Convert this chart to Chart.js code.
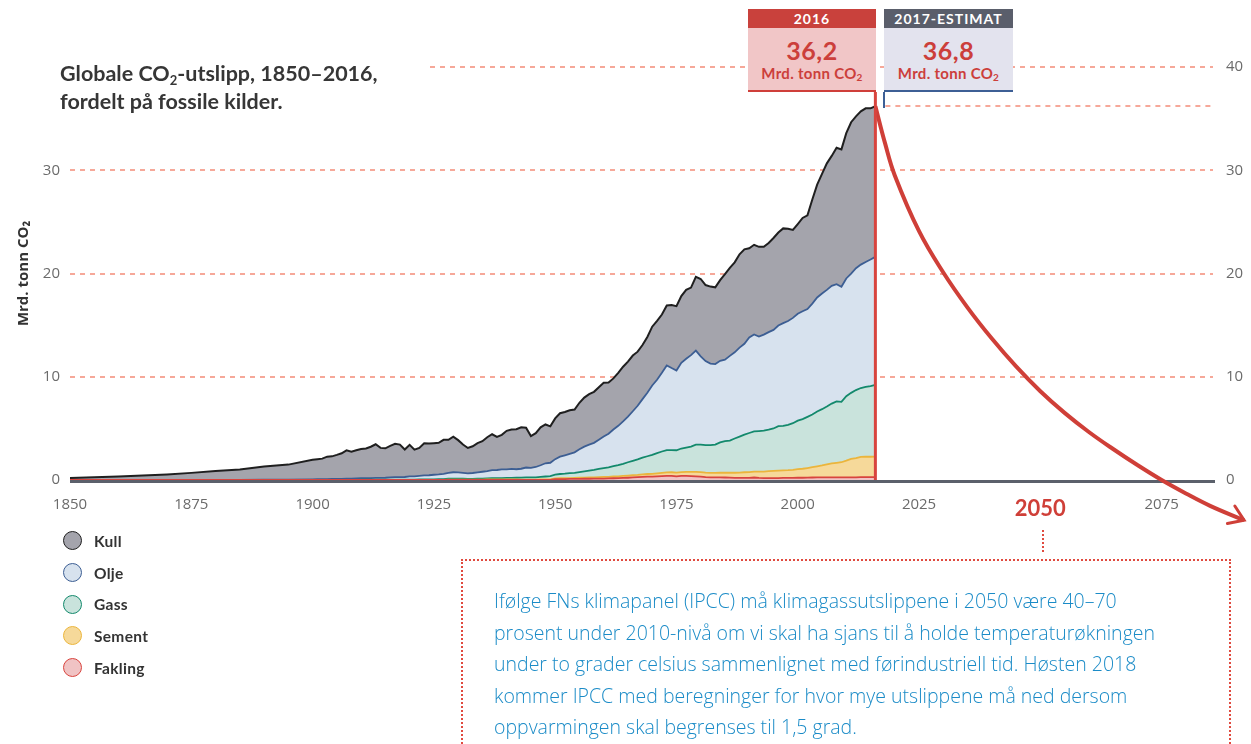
<!DOCTYPE html>
<html lang="no">
<head>
<meta charset="utf-8">
<title>Globale CO2-utslipp 1850–2016</title>
<script src="https://cdn.jsdelivr.net/npm/chart.js@4.4.1/dist/chart.umd.min.js"></script>
<style>
  html, body { margin: 0; padding: 0; background: #fff; }
  body { width: 1251px; height: 744px; position: relative; overflow: hidden; font-family: Lato, "Noto Sans", sans-serif; }
  #chart { position: absolute; left: 0; top: 0; }
  .title { position: absolute; left: 60px; top: 59px; font-size: 21.5px; font-weight: 700; line-height: 28px; color: #363636; }
  .title sub { font-size: 13px; line-height: 0; vertical-align: -4px; }
  .box { position: absolute; top: 9px; text-align: center; }
  .box .head { height: 19px; line-height: 20px; color: #fff; font-size: 14px; font-weight: 700; letter-spacing: 1px; }
  .box .body { height: 62px; border-bottom: 2px solid; color: #cc3f3b; }
  .box .num { font-size: 25px; font-weight: 700; line-height: 28px; padding-top: 8px; letter-spacing: 0.5px; }
  .box .unit { font-size: 15px; font-weight: 700; line-height: 18px; letter-spacing: 0.3px; }
  .box .unit sub { font-size: 10px; line-height: 0; vertical-align: -2px; }
  .tick2017 { position: absolute; left: 883px; top: 92px; width: 0; height: 16px; border-left: 2px solid #3d5f95; }
  .legend { position: absolute; left: 63px; top: 525px; }
  .legend .item { height: 31.7px; display: flex; align-items: center; font-size: 15.5px; font-weight: 700; color: #333; letter-spacing: 0.3px; }
  .legend .dot { width: 17px; height: 17px; border-radius: 50%; border: 1.5px solid; margin-right: 12px; }
  .link2050 { position: absolute; left: 1042px; top: 530px; height: 22px; border-left: 2px dotted #e04a3f; }
  .note { position: absolute; left: 461px; top: 559px; width: 735px; height: 220px; padding: 24px 0 0 31px;
          border: 2px dotted #e04a3f; color: #1a8bc7; font-family: "Open Sans", Lato, sans-serif;
          font-size: 19.5px; line-height: 31.5px; font-weight: 300; }
</style>
</head>
<body>
<canvas id="chart" width="1251" height="744"></canvas>
<div class="title">Globale CO<sub>2</sub>-utslipp, 1850–2016,<br>fordelt på fossile kilder.</div>
<div class="box" style="left:748px;width:128px">
  <div class="head" style="background:#c9413c">2016</div>
  <div class="body" style="background:#f1c6c7;border-color:#cf3f3a">
    <div class="num" id="val2016"></div>
    <div class="unit">Mrd. tonn CO<sub>2</sub></div>
  </div>
</div>
<div class="box" style="left:884px;width:129px">
  <div class="head" style="background:#5a5e6b">2017-ESTIMAT</div>
  <div class="body" style="background:#e3e3ee;border-color:#3d5f95">
    <div class="num" id="val2017"></div>
    <div class="unit">Mrd. tonn CO<sub>2</sub></div>
  </div>
</div>
<div class="tick2017"></div>
<div class="legend" id="legend"></div>
<div class="link2050"></div>
<div class="note">Ifølge FNs klimapanel (IPCC) må klimagassutslippene i 2050 være 40–70<br>prosent under 2010-nivå om vi skal ha sjans til å holde temperaturøkningen<br>under to grader celsius sammenlignet med førindustriell tid. Høsten 2018<br>kommer IPCC med beregninger for hvor mye utslippene må ned dersom<br>oppvarmingen skal begrenses til 1,5 grad.</div>

<script>
// Years (5-year steps before 1900, annual after)
const years = [
  1850, 1855, 1860, 1865, 1870, 1875, 1880, 1885, 1890, 1895,
  1900, 1901, 1902, 1903, 1904, 1905, 1906, 1907, 1908, 1909,
  1910, 1911, 1912, 1913, 1914, 1915, 1916, 1917, 1918, 1919,
  1920, 1921, 1922, 1923, 1924, 1925, 1926, 1927, 1928, 1929,
  1930, 1931, 1932, 1933, 1934, 1935, 1936, 1937, 1938, 1939,
  1940, 1941, 1942, 1943, 1944, 1945, 1946, 1947, 1948, 1949,
  1950, 1951, 1952, 1953, 1954, 1955, 1956, 1957, 1958, 1959,
  1960, 1961, 1962, 1963, 1964, 1965, 1966, 1967, 1968, 1969,
  1970, 1971, 1972, 1973, 1974, 1975, 1976, 1977, 1978, 1979,
  1980, 1981, 1982, 1983, 1984, 1985, 1986, 1987, 1988, 1989,
  1990, 1991, 1992, 1993, 1994, 1995, 1996, 1997, 1998, 1999,
  2000, 2001, 2002, 2003, 2004, 2005, 2006, 2007, 2008, 2009,
  2010, 2011, 2012, 2013, 2014, 2015, 2016
];

// Mrd. tonn CO2 per source
const kull = [
  0.20, 0.26, 0.33, 0.43, 0.53, 0.68, 0.85, 0.99, 1.27, 1.45,
  1.89, 1.94, 1.99, 2.17, 2.19, 2.32, 2.48, 2.74, 2.61, 2.73,
  2.83, 2.88, 3.03, 3.25, 2.90, 2.85, 3.05, 3.23, 3.16, 2.66,
  3.05, 2.58, 2.70, 3.11, 3.07, 3.06, 3.06, 3.29, 3.21, 3.45,
  3.13, 2.74, 2.45, 2.59, 2.83, 2.96, 3.27, 3.47, 3.21, 3.35,
  3.73, 3.81, 3.88, 4.01, 3.86, 3.08, 3.28, 3.67, 3.76, 3.53,
  3.95, 4.21, 4.19, 4.22, 4.15, 4.51, 4.75, 4.90, 4.94, 5.09,
  5.20, 4.97, 4.95, 5.13, 5.29, 5.33, 5.39, 5.24, 5.24, 5.40,
  5.69, 5.71, 5.65, 5.81, 6.10, 6.24, 6.47, 6.68, 6.55, 7.14,
  7.49, 7.36, 7.46, 7.43, 7.80, 8.28, 8.52, 8.71, 9.04, 9.15,
  8.65, 8.68, 8.69, 8.50, 8.64, 8.90, 9.01, 9.18, 8.94, 8.52,
  8.69, 9.04, 9.07, 10.08, 10.92, 11.59, 12.26, 12.59, 13.22, 13.30,
  14.07, 14.66, 14.71, 14.84, 14.88, 14.65, 14.59
];
const olje = [
  0, 0, 0, 0.01, 0.01, 0.01, 0.01, 0.02, 0.03, 0.04,
  0.06, 0.07, 0.07, 0.08, 0.09, 0.09, 0.09, 0.11, 0.12, 0.13,
  0.14, 0.15, 0.16, 0.18, 0.18, 0.19, 0.21, 0.23, 0.23, 0.25,
  0.32, 0.32, 0.35, 0.38, 0.40, 0.44, 0.46, 0.52, 0.56, 0.61,
  0.59, 0.57, 0.54, 0.57, 0.61, 0.66, 0.71, 0.79, 0.80, 0.84,
  0.83, 0.87, 0.82, 0.86, 0.96, 0.92, 1.00, 1.13, 1.28, 1.30,
  1.51, 1.68, 1.78, 1.87, 1.98, 2.20, 2.40, 2.52, 2.62, 2.82,
  3.05, 3.25, 3.55, 3.81, 4.11, 4.42, 4.80, 5.20, 5.67, 6.15,
  6.72, 7.10, 7.62, 8.20, 7.95, 7.72, 8.30, 8.60, 8.85, 9.10,
  8.55, 8.15, 7.90, 7.80, 7.90, 7.88, 8.20, 8.35, 8.62, 8.80,
  9.25, 9.40, 9.15, 9.30, 9.45, 9.55, 9.75, 9.95, 10.05, 10.20,
  10.35, 10.45, 10.45, 10.75, 11.05, 11.20, 11.30, 11.40, 11.35, 11.15,
  11.40, 11.55, 11.80, 11.95, 12.10, 12.25, 12.40
];
const gass = [
  0, 0, 0, 0, 0, 0, 0, 0, 0, 0,
  0.01, 0.01, 0.01, 0.01, 0.01, 0.02, 0.02, 0.02, 0.02, 0.02,
  0.03, 0.03, 0.03, 0.03, 0.03, 0.03, 0.04, 0.04, 0.04, 0.04,
  0.04, 0.04, 0.05, 0.06, 0.06, 0.07, 0.08, 0.08, 0.09, 0.10,
  0.10, 0.09, 0.08, 0.08, 0.09, 0.10, 0.11, 0.12, 0.12, 0.13,
  0.15, 0.16, 0.17, 0.19, 0.21, 0.21, 0.22, 0.25, 0.29, 0.31,
  0.36, 0.41, 0.44, 0.47, 0.50, 0.55, 0.60, 0.66, 0.72, 0.80,
  0.86, 0.92, 1.00, 1.08, 1.17, 1.29, 1.39, 1.49, 1.61, 1.72,
  1.84, 1.96, 2.06, 2.16, 2.14, 2.17, 2.28, 2.36, 2.45, 2.64,
  2.66, 2.66, 2.68, 2.74, 2.95, 3.07, 3.12, 3.32, 3.48, 3.64,
  3.78, 3.88, 3.93, 3.97, 4.02, 4.10, 4.30, 4.30, 4.40, 4.52,
  4.70, 4.80, 4.95, 5.10, 5.30, 5.45, 5.60, 5.80, 5.95, 5.85,
  6.25, 6.40, 6.60, 6.68, 6.75, 6.85, 6.95
];
const sement = [
  0, 0, 0, 0, 0, 0, 0, 0, 0, 0,
  0, 0, 0, 0, 0, 0, 0, 0, 0, 0,
  0, 0, 0, 0, 0, 0, 0, 0, 0, 0,
  0, 0, 0, 0, 0, 0, 0, 0, 0.04, 0.04,
  0.04, 0.04, 0.03, 0.03, 0.04, 0.04, 0.05, 0.05, 0.05, 0.05,
  0.05, 0.05, 0.05, 0.04, 0.04, 0.04, 0.04, 0.05, 0.05, 0.06,
  0.07, 0.08, 0.08, 0.09, 0.10, 0.11, 0.11, 0.12, 0.13, 0.14,
  0.16, 0.16, 0.17, 0.18, 0.20, 0.21, 0.22, 0.23, 0.25, 0.26,
  0.28, 0.30, 0.32, 0.34, 0.35, 0.35, 0.37, 0.39, 0.41, 0.43,
  0.44, 0.44, 0.43, 0.44, 0.45, 0.46, 0.47, 0.49, 0.51, 0.54,
  0.57, 0.58, 0.61, 0.63, 0.67, 0.71, 0.72, 0.74, 0.75, 0.78,
  0.83, 0.87, 0.93, 1.00, 1.08, 1.16, 1.26, 1.35, 1.40, 1.47,
  1.62, 1.78, 1.85, 1.96, 2.00, 1.98, 1.98
];
const fakling = [
  0, 0, 0, 0, 0, 0, 0, 0, 0, 0,
  0, 0, 0, 0, 0, 0, 0, 0, 0, 0,
  0, 0, 0, 0, 0, 0, 0, 0, 0, 0,
  0, 0, 0, 0, 0, 0, 0, 0, 0, 0,
  0, 0, 0, 0, 0, 0, 0, 0, 0, 0,
  0, 0, 0, 0, 0, 0, 0, 0, 0, 0,
  0.08, 0.09, 0.09, 0.10, 0.10, 0.11, 0.12, 0.12, 0.13, 0.14,
  0.14, 0.15, 0.17, 0.18, 0.20, 0.22, 0.25, 0.27, 0.30, 0.32,
  0.32, 0.35, 0.38, 0.40, 0.40, 0.36, 0.40, 0.39, 0.38, 0.36,
  0.33, 0.27, 0.26, 0.25, 0.25, 0.24, 0.23, 0.21, 0.21, 0.21,
  0.20, 0.24, 0.20, 0.18, 0.18, 0.18, 0.19, 0.20, 0.20, 0.20,
  0.22, 0.22, 0.23, 0.24, 0.25, 0.25, 0.25, 0.25, 0.26, 0.25,
  0.25, 0.26, 0.26, 0.27, 0.27, 0.27, 0.28
];

// Path towards zero emissions (red arrow)
const pathYears  = [2016, 2018, 2020, 2025, 2030, 2035, 2040, 2045, 2050, 2055, 2060, 2065, 2070, 2075, 2080, 2085, 2092];
const pathValues = [36.2, 32.6, 29.5, 24.1, 20.1, 16.7, 13.7, 11.0, 8.6, 6.5, 4.65, 3.0, 1.45, 0, -1.3, -2.5, -3.9];

const estimate2017 = 36.8;
const xTicks = [1850, 1875, 1900, 1925, 1950, 1975, 2000, 2025, 2050, 2075];
const yTicks = [0, 10, 20, 30, 40];
const gridValues = [10, 20, 30];

const sources = { Kull: kull, Olje: olje, Gass: gass, Sement: sement, Fakling: fakling };
const stackOrder = ["Fakling", "Sement", "Gass", "Olje", "Kull"]; // bottom to top
const colors = {
  Kull:    { fill: "#a4a4ac", line: "#1f1f1f" },
  Olje:    { fill: "#d7e2ee", line: "#3c5e93" },
  Gass:    { fill: "#c9e3dc", line: "#13896c" },
  Sement:  { fill: "#f6d99a", line: "#ebb53c" },
  Fakling: { fill: "#f0c3c4", line: "#d8443e" }
};
const RED = "#cf3f38";
const FONT = "'Open Sans', Lato, sans-serif";

// Value boxes
const last = years.length - 1;
const total2016 = stackOrder.reduce((s, n) => s + sources[n][last], 0);
const fmt = v => v.toFixed(1).replace(".", ",");
document.getElementById("val2016").textContent = fmt(total2016);
document.getElementById("val2017").textContent = fmt(estimate2017);

// Legend (Kull on top)
const legend = document.getElementById("legend");
stackOrder.slice().reverse().forEach(name => {
  const item = document.createElement("div");
  item.className = "item";
  const dot = document.createElement("span");
  dot.className = "dot";
  dot.style.background = colors[name].fill;
  dot.style.borderColor = colors[name].line;
  item.appendChild(dot);
  item.appendChild(document.createTextNode(name));
  legend.appendChild(item);
});

const datasets = stackOrder.map((name, i) => ({
  label: name,
  data: years.map((yr, k) => ({ x: yr, y: sources[name][k] })),
  yAxisID: "y",
  fill: i === 0 ? "origin" : "-1",
  backgroundColor: colors[name].fill,
  borderColor: colors[name].line,
  borderWidth: name === "Kull" ? 2 : 1.8,
  pointRadius: 0,
  tension: 0
}));

datasets.push({
  label: "Bane",
  data: pathYears.map((yr, k) => ({ x: yr, y: pathValues[k] })),
  yAxisID: "y2",
  fill: false,
  borderColor: RED,
  borderWidth: 4,
  pointRadius: 0,
  tension: 0.4,
  clip: false
});

// Dotted grid, baseline, 2016 marker and arrow head
const decorations = {
  id: "decorations",
  beforeDatasetsDraw(chart) {
    const { ctx, chartArea: a, scales: { x, y } } = chart;
    ctx.save();
    ctx.strokeStyle = "#f6a899";
    ctx.lineWidth = 2;
    ctx.setLineDash([5, 5]);
    const dash = (x0, yv) => {
      const py = Math.round(y.getPixelForValue(yv));
      ctx.beginPath();
      ctx.moveTo(x0, py);
      ctx.lineTo(a.right - 2, py);
      ctx.stroke();
    };
    gridValues.forEach(v => dash(a.left, v));
    dash(430, 40);
    dash(x.getPixelForValue(2016) + 10, total2016);
    ctx.setLineDash([]);
    ctx.strokeStyle = "#5b606b";
    ctx.lineWidth = 3;
    const y0 = y.getPixelForValue(0);
    ctx.beginPath();
    ctx.moveTo(a.left, y0 + 1.5);
    ctx.lineTo(a.right, y0 + 1.5);
    ctx.stroke();
    ctx.restore();
  },
  afterDatasetsDraw(chart) {
    const { ctx, scales: { x, y } } = chart;
    ctx.save();
    const px = x.getPixelForValue(2016);
    ctx.strokeStyle = "#d8443e";
    ctx.lineWidth = 3;
    ctx.beginPath();
    ctx.moveTo(px, 92);
    ctx.lineTo(px, y.getPixelForValue(0));
    ctx.stroke();

    const pts = chart.getDatasetMeta(datasets.length - 1).data;
    const tip = pts[pts.length - 1], prev = pts[pts.length - 2];
    const ang = Math.atan2(tip.y - prev.y, tip.x - prev.x);
    ctx.strokeStyle = RED;
    ctx.lineWidth = 3;
    ctx.lineCap = "round";
    ctx.beginPath();
    ctx.moveTo(tip.x + 17 * Math.cos(ang + 2.55), tip.y + 17 * Math.sin(ang + 2.55));
    ctx.lineTo(tip.x, tip.y);
    ctx.lineTo(tip.x + 17 * Math.cos(ang - 2.55), tip.y + 17 * Math.sin(ang - 2.55));
    ctx.stroke();
    ctx.restore();
  }
};

const setTicks = s => { s.ticks = yTicks.map(v => ({ value: v })); };

new Chart(document.getElementById("chart"), {
  type: "line",
  data: { datasets },
  plugins: [decorations],
  options: {
    responsive: false,
    animation: false,
    events: [],
    layout: { padding: { top: 67, left: 0, right: 0, bottom: 0 } },
    plugins: { legend: { display: false }, tooltip: { enabled: false } },
    scales: {
      x: {
        type: "linear",
        min: 1850,
        max: 2086,
        afterFit: s => { s.height = 264; },
        afterBuildTicks: s => { s.ticks = xTicks.map(v => ({ value: v })); },
        grid: { display: false, drawTicks: false },
        border: { display: false },
        ticks: {
          padding: 16,
          maxRotation: 0,
          autoSkip: false,
          color: c => (c.tick && c.tick.value === 2050 ? RED : "#6b6b6b"),
          font: c => (c.tick && c.tick.value === 2050
            ? { family: "Lato, sans-serif", size: 22, weight: "bold" }
            : { family: FONT, size: 15 }),
          callback: v => String(v)
        }
      },
      y: {
        type: "linear",
        position: "left",
        stacked: true,
        min: 0,
        max: 40,
        afterFit: s => { s.width = 70; },
        afterBuildTicks: setTicks,
        grid: { display: false, drawTicks: false },
        border: { display: false },
        ticks: {
          padding: 10,
          color: "#6b6b6b",
          font: { family: FONT, size: 15 },
          callback: v => (v === 40 ? "" : String(v))
        },
        title: {
          display: true,
          text: "Mrd. tonn CO₂",
          color: "#333",
          font: { family: FONT, size: 15, weight: "bold" },
          padding: { top: 15, bottom: 0 }
        }
      },
      y2: {
        type: "linear",
        position: "right",
        min: 0,
        max: 40,
        afterFit: s => { s.width = 36; },
        afterBuildTicks: setTicks,
        grid: { display: false, drawTicks: false },
        border: { display: false },
        ticks: {
          padding: 11,
          color: "#6b6b6b",
          font: { family: FONT, size: 15 },
          callback: v => String(v)
        }
      }
    }
  }
});
</script>
</body>
</html>
